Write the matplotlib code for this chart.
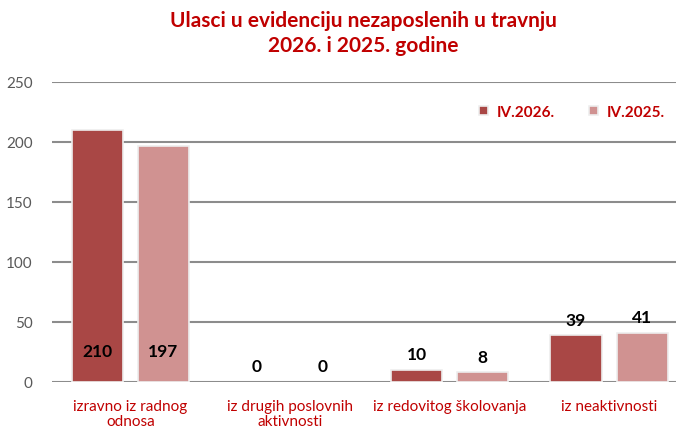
import matplotlib
matplotlib.use("Agg")
import matplotlib.pyplot as plt
import numpy as np

categories = ["izravno iz radnog\nodnosa", "iz drugih poslovnih\naktivnosti",
              "iz redovitog školovanja", "iz neaktivnosti"]
series_names = ["IV.2026.", "IV.2025."]
values_2026 = [210, 0, 10, 39]
values_2025 = [197, 0, 8, 41]
yticks = [0, 50, 100, 150, 200, 250]
title = "Ulasci u evidenciju nezaposlenih u travnju\n2026. i 2025. godine"

RED = "#C00000"
DARK = "#A94745"
LIGHT = "#D09291"
FONT = ["Lato", "DejaVu Sans"]

plt.rcParams['font.family'] = FONT

fig = plt.figure(figsize=(6.79, 4.27), dpi=100)
ax = fig.add_axes([52/679, 44/427, 624/679, 300/427])

x = np.arange(len(categories))
w = 0.32
off = 0.207
for xs, vals, col, name in ((x - off, values_2026, DARK, series_names[0]),
                            (x + off, values_2025, LIGHT, series_names[1])):
    edges = ["#EEEEEE" if v > 0 else "none" for v in vals]
    ax.bar(xs, vals, w, color=col, edgecolor=edges, linewidth=1.2, label=name, zorder=3)
    for xi, v in zip(xs, vals):
        yv = 26 if v > 100 else v + 13
        ax.text(xi, yv, str(v), ha="center", va="center", fontsize=12.5,
                fontweight="bold", color="black", zorder=4)

ax.set_xlim(-0.492, 3.42)
ax.set_ylim(0, 250)
ax.set_yticks(yticks)
ax.yaxis.grid(True, color="#8C8C8C", linewidth=1.5, zorder=0)
ax.set_axisbelow(True)
for s in ["top", "right", "left", "bottom"]:
    ax.spines[s].set_visible(False)
ax.tick_params(axis="y", length=0, labelsize=11, labelcolor="#595959", pad=14)
ax.set_xticks(x)
ax.set_xticklabels(categories, color=RED, fontsize=11, linespacing=1.1)
ax.tick_params(axis="x", length=0, pad=12)

fig.text(0.535, 0.975, title, ha="center", va="top", fontsize=15, fontweight="bold",
         color=RED, linespacing=1.35)

leg = ax.legend(loc="upper right", bbox_to_anchor=(1.005, 0.97), ncol=2, frameon=False,
                handlelength=0.6, handleheight=0.6, columnspacing=2.2, handletextpad=0.6,
                prop={"weight": "bold", "size": 11})
for t in leg.get_texts():
    t.set_color(RED)

fig.savefig("out.png", dpi=100)
